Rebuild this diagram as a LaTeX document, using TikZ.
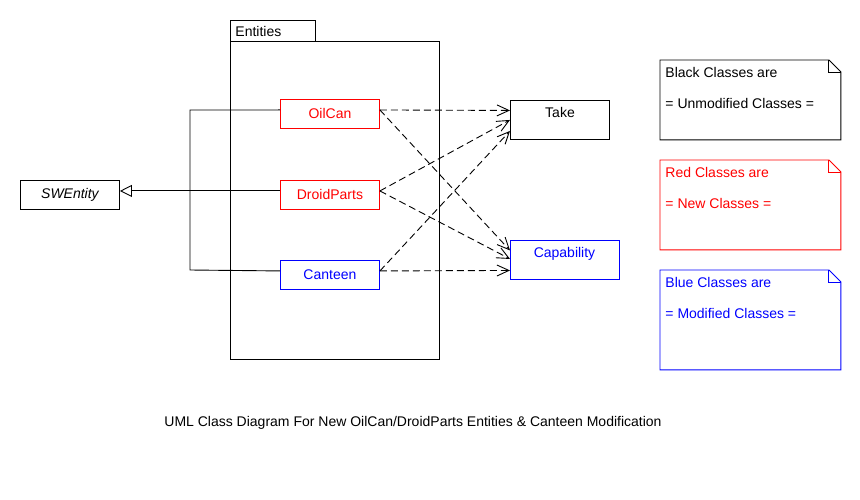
\documentclass[tikz,border=0pt]{standalone}
\usepackage{fontspec}
\setmainfont{Liberation Sans}
\usetikzlibrary{arrows.meta}
\definecolor{ured}{RGB}{255,0,0}
\definecolor{ublue}{RGB}{0,0,255}
\begin{document}
\begin{tikzpicture}[x=1pt,y=-1pt,line width=0.9pt,
  font=\fontsize{14}{16}\selectfont,
  cls/.style={draw,anchor=north west,inner sep=0pt,minimum width=99pt,minimum height=29pt},
  dep/.style={draw,dash pattern=on 7pt off 4pt,-{Straight Barb[length=12pt,width=11pt]}},
  gen/.style={draw,-{Triangle[open,length=12pt,width=12pt]}},
  notebox/.style={anchor=north west,inner sep=0pt,minimum width=180pt},
  notetext/.style={anchor=north west,align=left,inner sep=0pt,font=\fontsize{14}{31}\selectfont}
]
\useasboundingbox (0,0) rectangle (860,500);
% package
\node[draw,anchor=north west,minimum width=85pt,minimum height=21pt,inner sep=0pt] (tab) at (230,20) {};
\node[anchor=west,inner sep=0pt] (tabtxt) at (235,31) {Entities};
\node[draw,anchor=north west,minimum width=209pt,minimum height=318pt,inner sep=0pt] (pkg) at (230,41) {};
% classes
\node[cls] (sw) at (20,180) {\itshape SWEntity};
\node[cls,draw=ured,text=ured] (oil) at (280,99) {OilCan};
\node[cls,draw=ured,text=ured] (droid) at (280,180) {DroidParts};
\node[cls,draw=ublue,text=ublue] (can) at (280,260) {Canteen};
\node[cls,minimum height=39pt] (take) at (510,100) {};
\node[anchor=north,inner sep=0pt] (taketxt) at (560,107) {Take};
\node[cls,draw=ublue,minimum width=109pt,minimum height=39pt] (cap) at (510,240) {};
\node[anchor=north,inner sep=0pt,text=ublue] (captxt) at (564.5,247) {Capability};
% generalization
\coordinate (j1) at (190,110);
\coordinate (j2) at (190,270);
\draw ([yshift=4pt]oil.west) -- (j1) -- (j2) -- ([yshift=4pt]can.west);
\path[gen] ([yshift=4pt]droid.west) -- ([yshift=4pt]sw.east);
% dependencies
\path[dep] ([yshift=4pt]oil.east) -- ([yshift=9.5pt]take.west);
\path[dep] ([yshift=4pt]oil.east) -- ([yshift=9.5pt]cap.west);
\path[dep] ([yshift=4pt]droid.east) -- ([yshift=0pt]take.west);
\path[dep] ([yshift=4pt]droid.east) -- ([yshift=1pt]cap.west);
\path[dep] ([yshift=4pt]can.east) -- ([yshift=-11pt]take.west);
\path[dep] ([yshift=4pt]can.east) -- ([yshift=-10.5pt]cap.west);
% notes
\node[notebox,minimum height=79pt] (n1) at (660,60) {};
\draw ([xshift=-12pt]n1.north east) -- (n1.north west) -- (n1.south west) -- (n1.south east) -- ([yshift=-12pt]n1.north east) -- cycle;
\draw ([xshift=-12pt]n1.north east) -- ([xshift=-12pt,yshift=-12pt]n1.north east) -- ([yshift=-12pt]n1.north east);
\node[notetext] (n1t) at (665,67) {Black Classes are\\= Unmodified Classes =};
\node[notebox,minimum height=89pt] (n2) at (660,160) {};
\draw[ured] ([xshift=-12pt]n2.north east) -- (n2.north west) -- (n2.south west) -- (n2.south east) -- ([yshift=-12pt]n2.north east) -- cycle;
\draw[ured] ([xshift=-12pt]n2.north east) -- ([xshift=-12pt,yshift=-12pt]n2.north east) -- ([yshift=-12pt]n2.north east);
\node[notetext,text=ured] (n2t) at (665,167) {Red Classes are\\= New Classes =};
\node[notebox,minimum height=99pt] (n3) at (660,270) {};
\draw[ublue] ([xshift=-12pt]n3.north east) -- (n3.north west) -- (n3.south west) -- (n3.south east) -- ([yshift=-12pt]n3.north east) -- cycle;
\draw[ublue] ([xshift=-12pt]n3.north east) -- ([xshift=-12pt,yshift=-12pt]n3.north east) -- ([yshift=-12pt]n3.north east);
\node[notetext,text=ublue] (n3t) at (665,277) {Blue Classes are\\= Modified Classes =};
% caption
\node[inner sep=0pt] (caption) at (413,423) {UML Class Diagram For New OilCan/DroidParts Entities \& Canteen Modification};
\end{tikzpicture}
\end{document}
